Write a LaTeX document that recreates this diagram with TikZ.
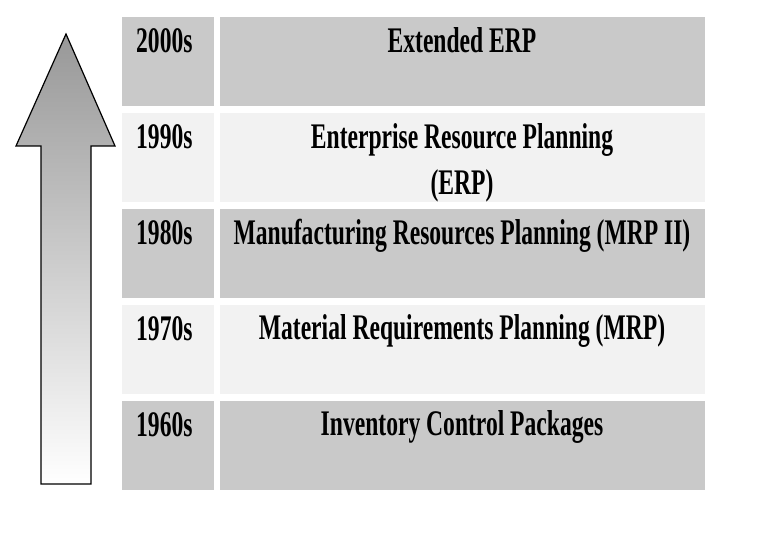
\documentclass[tikz,border=0pt]{standalone}
\usepackage{fontspec}
\setmainfont{Liberation Serif}[FakeStretch=0.655]
\definecolor{erpdark}{RGB}{201,201,201}
\definecolor{erplight}{RGB}{242,242,242}
\definecolor{arrowgray}{RGB}{152,152,152}

\begin{document}
\begin{tikzpicture}[x=1pt,y=-1pt,
  cell/.style={inner sep=0pt,outer sep=0pt,anchor=north west,minimum height=89pt},
  yeartext/.style={anchor=base west,inner sep=0pt,font=\bfseries\fontsize{36}{46}\selectfont},
  stagetext/.style={anchor=base,inner sep=0pt,align=center,font=\bfseries\fontsize{36}{46}\selectfont}]
\useasboundingbox[fill=white] (0,0) rectangle (764,545);
% rising arrow
\draw[top color=arrowgray,bottom color=white,line width=1.2pt]
  (66,34) -- (115,146) -- (91,146) -- (91,484) -- (41,484) -- (41,146) -- (16,146) -- cycle;
% one row per decade (\dy: baseline of the last line)
\foreach \i/\yr/\fl/\dy/\txt in {0/2000s/erpdark/36/Extended ERP,
    1/1990s/erplight/82/{Enterprise Resource Planning\\(ERP)},
    2/1980s/erpdark/36/Manufacturing Resources Planning (MRP II),
    3/1970s/erplight/35/Material Requirements Planning (MRP),
    4/1960s/erpdark/35/Inventory Control Packages}{
  \node[cell,fill=\fl,minimum width=92pt] (year\i) at (122,{17+96*\i}) {};
  \node[cell,fill=\fl,minimum width=485pt] (stage\i) at (220,{17+96*\i}) {};
  \node[yeartext] (yearlabel\i) at (136,{17+96*\i+36}) {\yr};
  \node[stagetext] (stagelabel\i) at (462,{17+96*\i+\dy}) {\txt};
}
\end{tikzpicture}
\end{document}
